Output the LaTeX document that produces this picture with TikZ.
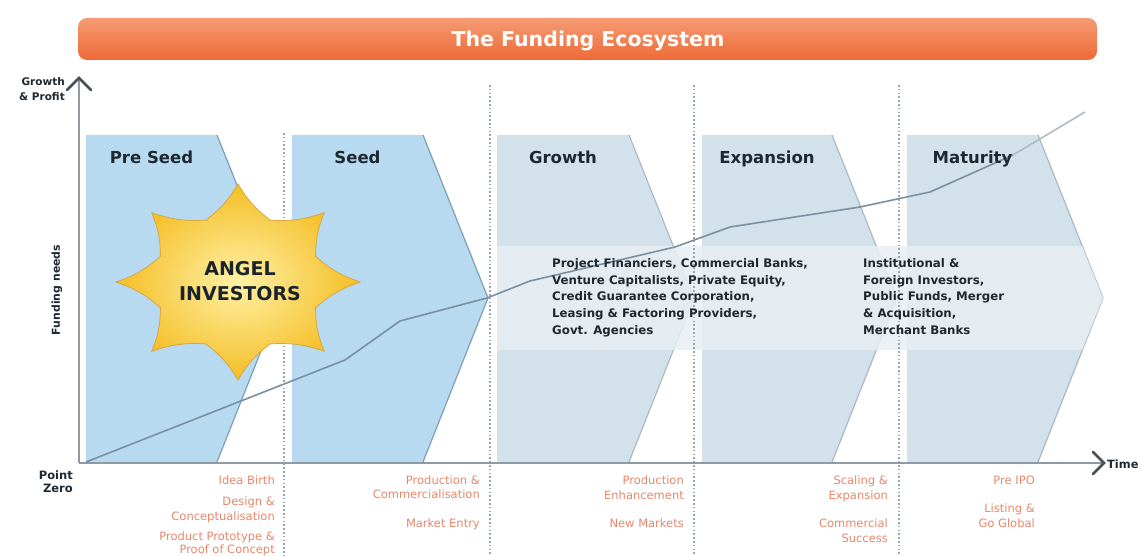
\documentclass[tikz,border=0pt]{standalone}
\usepackage{fontspec}
\setmainfont{DejaVu Sans}
\usetikzlibrary{calc}

\definecolor{bannerTop}{HTML}{F59B74}
\definecolor{bannerBot}{HTML}{EF6A36}
\definecolor{seedBlue}{HTML}{B7DAF0}
\definecolor{stageGrey}{HTML}{D3E1EA}
\definecolor{bandGrey}{HTML}{E8EFF4}
\definecolor{edgeBlue}{HTML}{7E9FB5}
\definecolor{edgeGrey}{HTML}{A9BAC6}
\definecolor{axisGrey}{HTML}{8F9BA4}
\definecolor{arrowDark}{HTML}{4A4F53}
\definecolor{dotGrey}{HTML}{9AA6AE}
\definecolor{curveGrey}{HTML}{7A90A1}
\definecolor{curveLight}{HTML}{AEBBC5}
\definecolor{inkDark}{HTML}{1E2830}
\definecolor{labelOrange}{HTML}{E8866A}
\definecolor{starIn}{HTML}{FFF1A6}
\definecolor{starOut}{HTML}{F4BE25}
\definecolor{starEdge}{HTML}{D9A542}

\begin{document}
\begin{tikzpicture}[x=1pt,y=-1pt,
  bannertext/.style={font=\bfseries\fontsize{20.5}{24}\selectfont, text=white, inner sep=0pt, anchor=base},
  stagetitle/.style={font=\bfseries\fontsize{16.5}{19}\selectfont, text=inkDark, inner sep=0pt, anchor=base},
  fundtext/.style={font=\bfseries\fontsize{11.8}{16.7}\selectfont, text=inkDark, inner sep=0pt, align=left, anchor=north west},
  milestone/.style={font=\fontsize{11.5}{14}\selectfont, text=labelOrange, inner sep=0pt, anchor=base east},
  axislabel/.style={font=\bfseries\fontsize{11.5}{13}\selectfont, text=inkDark, inner sep=0pt},
  startext/.style={font=\bfseries\fontsize{19}{25}\selectfont, text=inkDark!90!black, inner sep=0pt, align=center},
  blueedge/.style={draw=edgeBlue, line width=1.2pt, line join=round},
  greyedge/.style={draw=edgeGrey, line width=1.2pt, line join=round},
  dotline/.style={draw=dotGrey, line width=1.2pt, dash pattern=on 1.6pt off 2.2pt},
  axisline/.style={draw=axisGrey, line width=2.4pt},
  chevron/.style={draw=arrowDark, line width=2.6pt, line cap=round, line join=miter},
  curve/.style={draw=curveGrey, line width=1.6pt, line join=round},
]
\useasboundingbox (0,0) rectangle (1140,556);

% title banner
\shade[top color=bannerTop, bottom color=bannerBot, rounded corners=9pt] (78,18) rectangle (1097,60);
\node[bannertext] (title) at (588,46.5) {The Funding Ecosystem};

% stage chevrons
\fill[seedBlue]   (86,135) -- (217,135) -- (282,298) -- (217,462) -- (86,462) -- cycle;
\fill[seedBlue]   (292,135) -- (423,135) -- (488,298) -- (423,462) -- (292,462) -- cycle;
\fill[stageGrey]  (497,135) -- (629,135) -- (694,298) -- (629,462) -- (497,462) -- cycle;
\fill[stageGrey]  (702,135) -- (832,135) -- (897,298) -- (832,462) -- (702,462) -- cycle;
\fill[stageGrey]  (907,135) -- (1038,135) -- (1103,298) -- (1038,462) -- (907,462) -- cycle;

\draw[blueedge] (217,135) -- (282,298) -- (217,462);
\draw[blueedge] (423,135) -- (488,298) -- (423,462);
\draw[greyedge] (629,135) -- (694,298) -- (629,462);
\draw[greyedge] (832,135) -- (897,298) -- (832,462);
\draw[greyedge] (1038,135) -- (1103,298) -- (1038,462);

% light band carrying the investor lists
\fill[bandGrey, opacity=0.85] (497,246) -- (1082,246) -- (1103,298) -- (1082,350) -- (497,350) -- cycle;

% stage separators
\draw[dotline] (284,133) -- (284,556);
\draw[dotline] (490,85) -- (490,556);
\draw[dotline] (694,85) -- (694,556);
\draw[dotline] (899,85) -- (899,556);

% axes
\coordinate (origin) at (79,463);
\coordinate (ytop) at (79,78);
\coordinate (xend) at (1104,463);
\draw[axisline] (origin) -- (ytop);
\draw[axisline] (origin) -- (xend);
\draw[chevron] ($(ytop)+(-12,12)$) -- (ytop) -- ($(ytop)+(12,12)$);
\draw[chevron] ($(xend)+(-11,-11)$) -- (xend) -- ($(xend)+(-11,11)$);

% angel investors burst
\begin{scope}[shift={(238,282)}]
\shadedraw[inner color=starIn, outer color=starOut, draw=starEdge, line width=0.8pt]
  (0:122 and 98)
  \foreach \a in {0,45,...,315} {
    to[bend right=11] (\a+22.5:84 and 67)
    to[bend right=11] (\a+45:122 and 98)
  } -- cycle;
\end{scope}
\node[startext] (angel) at (240,281) {ANGEL\\INVESTORS};

% growth & profit curve
\draw[curve] (86,462) -- (345,360) -- (400,321) -- (487,298) -- (530,281) -- (675,247)
  -- (730,227) -- (860,207) -- (930,192) -- (1013,155);
\draw[curve, draw=curveLight] (1013,155) -- (1085,112);

% stage titles
\node[stagetitle] (preseed)   at (151.5,164) {Pre Seed};
\node[stagetitle] (seed)      at (357.5,164) {Seed};
\node[stagetitle] (growth)    at (563,164) {Growth};
\node[stagetitle] (expansion) at (767,164) {Expansion};
\node[stagetitle] (maturity)  at (972.5,164) {Maturity};

% investor lists
\node[fundtext] (growthfunds) at (552,258.3) {Project Financiers, Commercial Banks,\\Venture Capitalists, Private Equity,\\Credit Guarantee Corporation,\\Leasing \& Factoring Providers,\\Govt. Agencies};
\node[fundtext] (maturefunds) at (863,258.3) {Institutional \&\\Foreign Investors,\\Public Funds, Merger\\\& Acquisition,\\Merchant Banks};

% axis labels
\node[axislabel, font=\bfseries\fontsize{10.5}{13}\selectfont, anchor=base east] (gp1) at (65,86) {Growth};
\node[axislabel, font=\bfseries\fontsize{10.5}{13}\selectfont, anchor=base east] (gp2) at (65,100.5) {\& Profit};
\node[axislabel, font=\bfseries\fontsize{10.9}{13}\selectfont, rotate=90] (needs) at (57,290) {Funding needs};
\node[axislabel, anchor=base east] (pz1) at (73,479) {Point};
\node[axislabel, anchor=base east] (pz2) at (73,492) {Zero};
\node[axislabel, font=\bfseries\fontsize{11.4}{14}\selectfont, anchor=base west] (time) at (1107,468) {Time};

% milestones
\node[milestone] (m11) at (275,484) {Idea Birth};
\node[milestone] (m12) at (275,505) {Design \&};
\node[milestone] (m13) at (275,520) {Conceptualisation};
\node[milestone] (m14) at (275,540) {Product Prototype \&};
\node[milestone] (m15) at (275,553) {Proof of Concept};

\node[milestone] (m21) at (480,484) {Production \&};
\node[milestone] (m22) at (480,498) {Commercialisation};
\node[milestone] (m23) at (480,527) {Market Entry};

\node[milestone] (m31) at (684,484) {Production};
\node[milestone] (m32) at (684,499) {Enhancement};
\node[milestone] (m33) at (684,527) {New Markets};

\node[milestone] (m41) at (888,484) {Scaling \&};
\node[milestone] (m42) at (888,499) {Expansion};
\node[milestone] (m43) at (888,527) {Commercial};
\node[milestone] (m44) at (888,542) {Success};

\node[milestone] (m51) at (1035,484) {Pre IPO};
\node[milestone] (m52) at (1035,512) {Listing \&};
\node[milestone] (m53) at (1035,527) {Go Global};
\end{tikzpicture}
\end{document}
